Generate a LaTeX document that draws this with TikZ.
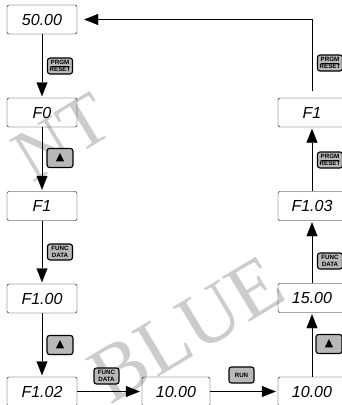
\documentclass[tikz,border=0pt]{standalone}
\usepackage{fontspec}
\setmainfont{Liberation Serif}
\newfontfamily\lcdfont{Liberation Sans}
\newfontfamily\symfont{DejaVu Sans}
\usetikzlibrary{arrows.meta}
\tikzset{display/.style={draw,rounded corners=2pt,minimum width=70pt,minimum height=29pt,inner sep=0pt,
        font=\lcdfont\itshape\fontsize{16}{16}\selectfont},
    keybox/.style={draw,line width=1.1pt,rounded corners=2.5pt,fill=black!28,minimum width=25pt,
        minimum height=16pt,inner sep=0pt,align=center,font=\lcdfont\bfseries\fontsize{6.2}{6.4}\selectfont},
    upkey/.style={keybox,minimum width=26pt,minimum height=19pt,font=\symfont\fontsize{11}{11}\selectfont},
    watermark/.style={text=black!20,font=\fontsize{80}{80}\selectfont,rotate=31}}
\begin{document}
\begin{tikzpicture}[x=1pt,y=-1pt,>={Triangle[length=14pt,width=11pt]},thin]
      \useasboundingbox (0,0) rectangle (342,405);
      % watermark
      \node[watermark,font=\fontsize{74}{74}\selectfont] (wmA) at (62,137) {NT};
      \node[watermark] (wmB) at (187,330) {BLUE};
      % left column
      \node[display] (v50) at (42,19.5) {50.00};
      \node[display] (f0) at (42,112.5) {F0};
      \node[display] (f1) at (42,206) {F1};
      \node[display] (f100) at (42,298.5) {F1.00};
      \node[display] (f102) at (42,391.5) {F1.02};
      % bottom row and right column
      \node[display,minimum width=68pt] (m10) at (176,391.5) {10.00};
      \node[display,minimum width=68pt] (r10) at (312,391.5) {10.00};
      \node[display,minimum width=68pt] (r15) at (312,298) {15.00};
      \node[display,minimum width=68pt] (r103) at (312,206) {F1.03};
      \node[display,minimum width=68pt] (r1) at (312,112.5) {F1};
      % keys
      \node[keybox] (kPrgmA) at (60,66) {\underline{PRGM}\\RESET};
      \node[upkey] (kUpA) at (60,158) {▲};
      \node[keybox] (kFuncA) at (60,252) {FUNC\\DATA};
      \node[upkey] (kUpB) at (60,345) {▲};
      \node[keybox] (kFuncB) at (106.5,376) {FUNC\\DATA};
      \node[keybox] (kRun) at (241.5,375) {RUN};
      \node[upkey] (kUpC) at (329,344) {▲};
      \node[keybox] (kFuncC) at (330,261) {FUNC\\DATA};
      \node[keybox] (kPrgmB) at (330,160) {\underline{PRGM}\\RESET};
      \node[keybox] (kPrgmC) at (330,63) {\underline{PRGM}\\RESET};
      % arrows
      \draw[->,shorten >=1.5pt] (v50) -- (f0);
      \draw[->,shorten >=1.5pt] (f0) -- (f1);
      \draw[->,shorten >=1.5pt] (f1) -- (f100);
      \draw[->,shorten >=1.5pt] (f100) -- (f102);
      \draw[->,shorten >=2pt] (f102) -- (m10);
      \draw[->,shorten >=2pt] (m10) -- (r10);
      \draw[->,shorten >=1.5pt] (r10) -- (r15);
      \draw[->,shorten >=1.5pt] (r15) -- (r103);
      \draw[->,shorten >=1.5pt] (r103) -- (r1);
      \draw[->,shorten <=7pt,shorten >=7pt] (r1.north) |- (v50.east);
\end{tikzpicture}
\end{document}
